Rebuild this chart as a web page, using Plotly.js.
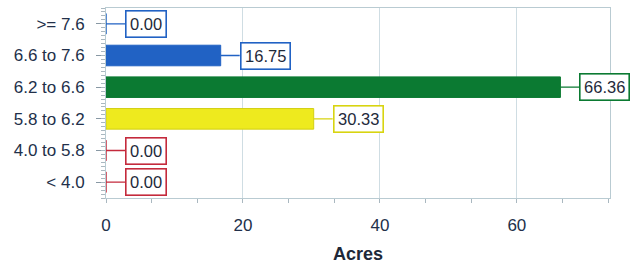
<!DOCTYPE html>
<html><head><meta charset="utf-8">
<script src="https://cdn.plot.ly/plotly-3.0.1.min.js"></script>
<style>html,body{margin:0;padding:0;background:#fff}#chart{width:643px;height:264px}</style>
</head><body><div id="chart"></div>
<script>
const categories = ["< 4.0", "4.0 to 5.8", "5.8 to 6.2", "6.2 to 6.6", "6.6 to 7.6", ">= 7.6"];
const acres = [0.00, 0.00, 30.33, 66.36, 16.75, 0.00];
const colors = ["#c42a3c", "#c42a3c", "#eeea1e", "#0b7a32", "#2162c4", "#2162c4"];
const xTicks = [0, 20, 40, 60];

const font = "Liberation Sans, Arial, sans-serif";
const traces = [{
  type: "bar", orientation: "h", y: categories, x: acres,
  marker: {color: colors, line: {color: colors.map(c => c === "#eeea1e" ? "#d2cf14" : c), width: 1}},
  width: 0.65, hoverinfo: "none", cliponaxis: false
}, {
  type: "scatter", x: [], y: [], yaxis: "y2", xaxis: "x", hoverinfo: "none", showlegend: false
}];

const annotations = categories.map((c, i) => ({
  x: acres[i], y: c, xref: "x", yref: "y",
  text: acres[i].toFixed(2),
  showarrow: true, arrowhead: 0, arrowwidth: 1.3, arrowcolor: colors[i] === "#eeea1e" ? "#d8d410" : colors[i],
  ax: 19, ay: 0, xanchor: "left", standoff: 0, startstandoff: 0,
  bordercolor: colors[i] === "#eeea1e" ? "#d8d410" : colors[i], borderwidth: 1.6, borderpad: 3.5,
  bgcolor: "#fff", font: {family: font, size: 16.5, color: "#1e2a3a"}
}));

const layout = {
  width: 643, height: 264,
  margin: {l: 106, r: 33, t: 8, b: 66},
  paper_bgcolor: "#fff", plot_bgcolor: "#fff",
  showlegend: false,
  font: {family: font, size: 16, color: "#2a3242"},
  xaxis: {
    range: [0, 73.6], tickvals: xTicks, ticktext: xTicks.map(String),
    showgrid: true, gridcolor: "#cfdde3", gridwidth: 1,
    zeroline: false, showline: true, linecolor: "#b9cbd2", linewidth: 1, mirror: true,
    ticks: "outside", ticklen: 4, tickcolor: "#aab8c0",
    minor: {dtick: 20 / 3, tick0: 0, ticks: "outside", ticklen: 4, tickcolor: "#aab8c0", showgrid: false},
    ticklabelstandoff: 8,
    tickfont: {family: font, size: 17, color: "#22304a"},
    title: {text: "<b>Acres</b>", font: {family: font, size: 18, color: "#1e2838"}, standoff: 12},
    fixedrange: true
  },
  yaxis: {
    type: "category", categoryorder: "array", categoryarray: categories,
    range: [-0.5, 5.5],
    showgrid: false, zeroline: false, showline: true, linecolor: "#b9cbd2", mirror: true,
    ticks: "outside", ticklen: 9, tickcolor: "#8898a4",
    ticklabelstandoff: 8,
    tickfont: {family: font, size: 17, color: "#22304a"},
    fixedrange: true
  },
  yaxis2: {
    overlaying: "y", side: "left", range: [-0.5, 5.5],
    showgrid: false, zeroline: false, showticklabels: false, showline: false,
    ticks: "outside", ticklen: 4, tickcolor: "#aab8c0", dtick: 0.125, tick0: -0.5,
    fixedrange: true
  },
  annotations: annotations
};

Plotly.newPlot("chart", traces, layout, {staticPlot: true, displayModeBar: false});
</script>
</body></html>
